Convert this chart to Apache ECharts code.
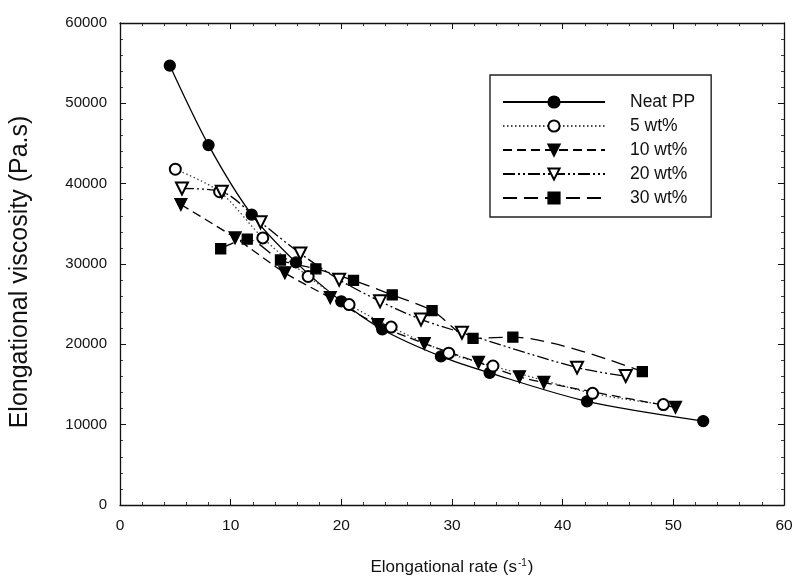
<!DOCTYPE html>
<html>
<head>
<meta charset="utf-8">
<script src="https://cdn.jsdelivr.net/npm/echarts@6/dist/echarts.min.js"></script>
<style>
  html, body { margin: 0; padding: 0; background: #fff; }
  #chart { width: 798px; height: 586px; }
</style>
</head>
<body>
<div id="chart"></div>
<script>
// ---- Data ----
const seriesNames = ['Neat PP', '5 wt%', '10 wt%', '20 wt%', '30 wt%'];

const xNeat = [4.5, 8.0, 11.9, 15.9, 20.0, 23.7, 29.0, 33.4, 42.2, 52.7];
const yNeat = [54700, 44800, 36150, 30200, 25350, 21850, 18500, 16450, 12900, 10450];

const x5 = [5.0, 9.0, 12.9, 17.0, 20.7, 24.5, 29.7, 33.7, 42.7, 49.1];
const y5 = [41800, 39000, 33250, 28450, 24950, 22150, 18900, 17300, 13900, 12500];

const x10 = [5.5, 10.4, 14.9, 19.0, 23.3, 27.5, 32.4, 36.1, 38.3, 50.2];
const y10 = [37400, 33250, 28900, 25800, 22450, 20100, 17750, 15950, 15250, 12150];

const x20 = [5.6, 9.2, 12.7, 16.3, 19.8, 23.5, 27.2, 30.9, 41.3, 45.7];
const y20 = [39400, 39000, 35200, 31300, 28050, 25350, 23100, 21450, 17100, 16050];

const x30 = [9.1, 11.5, 14.5, 17.7, 21.1, 24.6, 28.2, 31.9, 35.5, 47.2];
const y30 = [31900, 33100, 30500, 29400, 27950, 26150, 24200, 20750, 20900, 16600];

const xTicks = [0, 10, 20, 30, 40, 50, 60];
const yTicks = [0, 10000, 20000, 30000, 40000, 50000, 60000];

function pairs(xs, ys) { return xs.map((x, i) => [x, ys[i]]); }

const FONT = '"Liberation Sans", Arial, sans-serif';
const INK = '#111';

const chart = echarts.init(document.getElementById('chart'), null, { renderer: 'canvas' });

const tickCommon = {
  axisLine: { show: true, onZero: false, lineStyle: { color: INK, width: 1.3 } },
  axisTick: { show: true, inside: true, length: 6, lineStyle: { color: INK, width: 1 } },
  minorTick: { show: true, splitNumber: 5, length: 3, lineStyle: { color: INK, width: 0.8 } },
  splitLine: { show: false },
  minorSplitLine: { show: false }
};

function mkSeries(name, data, symbol, rotate, size, lineType, color) {
  return {
    name: name,
    type: 'line',
    data: data,
    symbol: symbol,
    symbolRotate: rotate,
    symbolSize: size,
    smooth: 0.3,
    itemStyle: { color: '#000', borderColor: '#000', borderWidth: 1.3 },
    lineStyle: { color: color || '#000', width: 1.3, type: lineType },
    emphasis: { disabled: true },
    z: 3
  };
}

const option = {
  animation: false,
  backgroundColor: '#fff',
  textStyle: { fontFamily: FONT },
  grid: { left: 120, right: 14, top: 23, bottom: 81, containLabel: false },
  legend: {
    data: seriesNames,
    orient: 'vertical',
    left: 490,
    top: 75,
    itemWidth: 102,
    itemHeight: 14,
    itemGap: 6,
    padding: [18, 16, 10, 12],
    borderColor: '#222',
    borderWidth: 1.4,
    backgroundColor: '#fff',
    textStyle: { fontFamily: FONT, fontSize: 17.5, color: INK, padding: [0, 0, 0, 20] }
  },
  xAxis: [
    Object.assign({
      type: 'value', min: 0, max: 60, interval: 10,
      position: 'bottom',
      name: 'Elongational rate (s{sup|-1})',
      nameLocation: 'middle',
      nameGap: 53,
      nameTextStyle: {
        fontFamily: FONT, fontSize: 17, color: INK,
        rich: { sup: { fontFamily: FONT, fontSize: 10, color: INK, padding: [0, 1, 9, 1] } }
      },
      axisLabel: {
        fontFamily: FONT, fontSize: 15.5, color: INK, margin: 13,
        formatter: function (v) { return xTicks.indexOf(v) >= 0 ? String(v) : ''; }
      }
    }, tickCommon),
    Object.assign({
      type: 'value', min: 0, max: 60, interval: 10, position: 'top',
      axisLabel: { show: false }
    }, tickCommon)
  ],
  yAxis: [
    Object.assign({
      type: 'value', min: 0, max: 60000, interval: 10000,
      position: 'left',
      name: 'Elongational viscosity (Pa.s)',
      nameLocation: 'middle',
      nameGap: 87,
      nameTextStyle: { fontFamily: FONT, fontSize: 25, color: INK, padding: [0, 16, 0, 0] },
      axisLabel: {
        fontFamily: FONT, fontSize: 15, color: INK, margin: 13,
        formatter: function (v) { return yTicks.indexOf(v) >= 0 ? String(v) : ''; }
      }
    }, tickCommon),
    Object.assign({
      type: 'value', min: 0, max: 60000, interval: 10000, position: 'right',
      axisLabel: { show: false }
    }, tickCommon)
  ],
  series: [
    mkSeries(seriesNames[0], pairs(xNeat, yNeat), 'circle', 0, 11, 'solid'),
    mkSeries(seriesNames[1], pairs(x5, y5), 'emptyCircle', 0, 11, [1.5, 2.5], '#444'),
    mkSeries(seriesNames[2], pairs(x10, y10), 'triangle', 180, 12, [9, 5]),
    mkSeries(seriesNames[3], pairs(x20, y20), 'emptyTriangle', 180, 12, [12, 3, 2, 3, 2, 3]),
    mkSeries(seriesNames[4], pairs(x30, y30), 'rect', 0, 10, [14, 7])
  ]
};

chart.setOption(option);
</script>
</body>
</html>
